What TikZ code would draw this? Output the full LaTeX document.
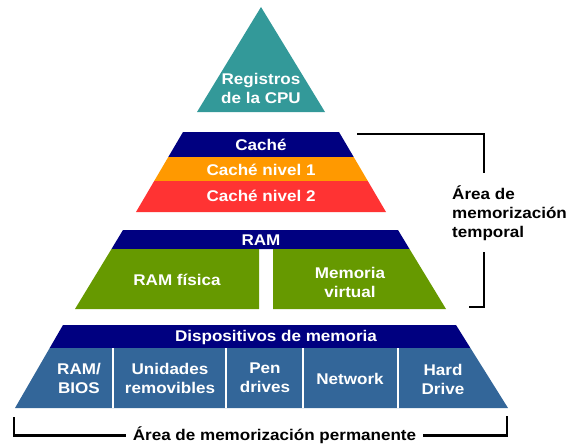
\documentclass[tikz,border=0pt]{standalone}
\usepackage{fontspec}
\setmainfont{Liberation Sans}[FakeStretch=1.1]
\usepackage{tikz}
\definecolor{regteal}{RGB}{51,153,153}
\definecolor{bandnavy}{RGB}{0,0,128}
\definecolor{cacheorange}{RGB}{255,153,0}
\definecolor{cachered}{RGB}{255,51,51}
\definecolor{ramgreen}{RGB}{102,153,0}
\definecolor{devblue}{RGB}{51,102,153}

\begin{document}
\begin{tikzpicture}[x=1pt,y=-1pt,
		band/.style={text=white,font=\bfseries\fontsize{15.5}{19}\selectfont,align=center,inner sep=0pt},
		note/.style={text=black,font=\bfseries\fontsize{15.5}{19}\selectfont,inner sep=0pt},
		brk/.style={black,line width=2.2pt}]
		\useasboundingbox (0,0) rectangle (569,444);

		% registros
		\fill[regteal] (261,7) -- (325,112) -- (197,112) -- cycle;
		\node[band] (reg) at (261,88) {Registros\\de la CPU};

		% cache
		\fill[bandnavy] (183,132) -- (339,132) -- (353.7,157) -- (168.3,157) -- cycle;
		\fill[cacheorange] (168.3,157) -- (353.7,157) -- (367.8,181) -- (154.2,181) -- cycle;
		\fill[cachered] (154.2,181) -- (367.8,181) -- (386,212) -- (136,212) -- cycle;
		\node[band] (cache) at (261,145) {Caché};
		\node[band] (cache1) at (261,170) {Caché nivel 1};
		\node[band] (cache2) at (261,196) {Caché nivel 2};

		% ram
		\fill[bandnavy] (123,230) -- (398,230) -- (409.5,249) -- (111.5,249) -- cycle;
		\fill[ramgreen] (111.5,249) -- (259,249) -- (259,309) -- (75,309) -- cycle;
		\fill[ramgreen] (273,249) -- (409.5,249) -- (446,309) -- (273,309) -- cycle;
		\node[band] (ram) at (261,240) {RAM};
		\node[band] (ramfis) at (177,280) {RAM física};
		\node[band] (memvirt) at (350,282) {Memoria\\virtual};

		% dispositivos
		\fill[bandnavy] (63,325) -- (456,325) -- (470.4,348) -- (49.7,348) -- cycle;
		\fill[devblue] (49.7,348) -- (470.4,348) -- (508,408) -- (15,408) -- cycle;
		\foreach \i in {113,226,303,398}{
			\draw[white,line width=2.5pt] (\i,348) -- (\i,408);
		}
		\node[band] (disp) at (276,337) {Dispositivos de memoria};
		\node[band] (rambios) at (79,378) {RAM/\\BIOS};
		\node[band] (unid) at (170,378) {Unidades\\removibles};
		\node[band] (pen) at (265,378) {Pen\\drives};
		\node[band] (net) at (350,379) {Network};
		\node[band] (hard) at (443,379) {Hard\\Drive};

		% llaves
		\node[note,align=left,anchor=west] (temp) at (452,213) {Área de\\memorización\\temporal};
		\coordinate (tA) at (357,134);
		\coordinate (tC) at (484,173);
		\coordinate (tD) at (484,252);
		\coordinate (tF) at (469,307);
		\draw[brk] (tA) -| (tC);
		\draw[brk] (tD) |- (tF);

		\node[note,inner xsep=7pt] (perm) at (274.5,435.5) {Área de memorización permanente};
		\coordinate (pA) at (14,417);
		\coordinate (pZ) at (507,416);
		\draw[brk] (pA) |- (perm.west);
		\draw[brk] (pZ) |- (perm.east);
	\end{tikzpicture}
\end{document}
